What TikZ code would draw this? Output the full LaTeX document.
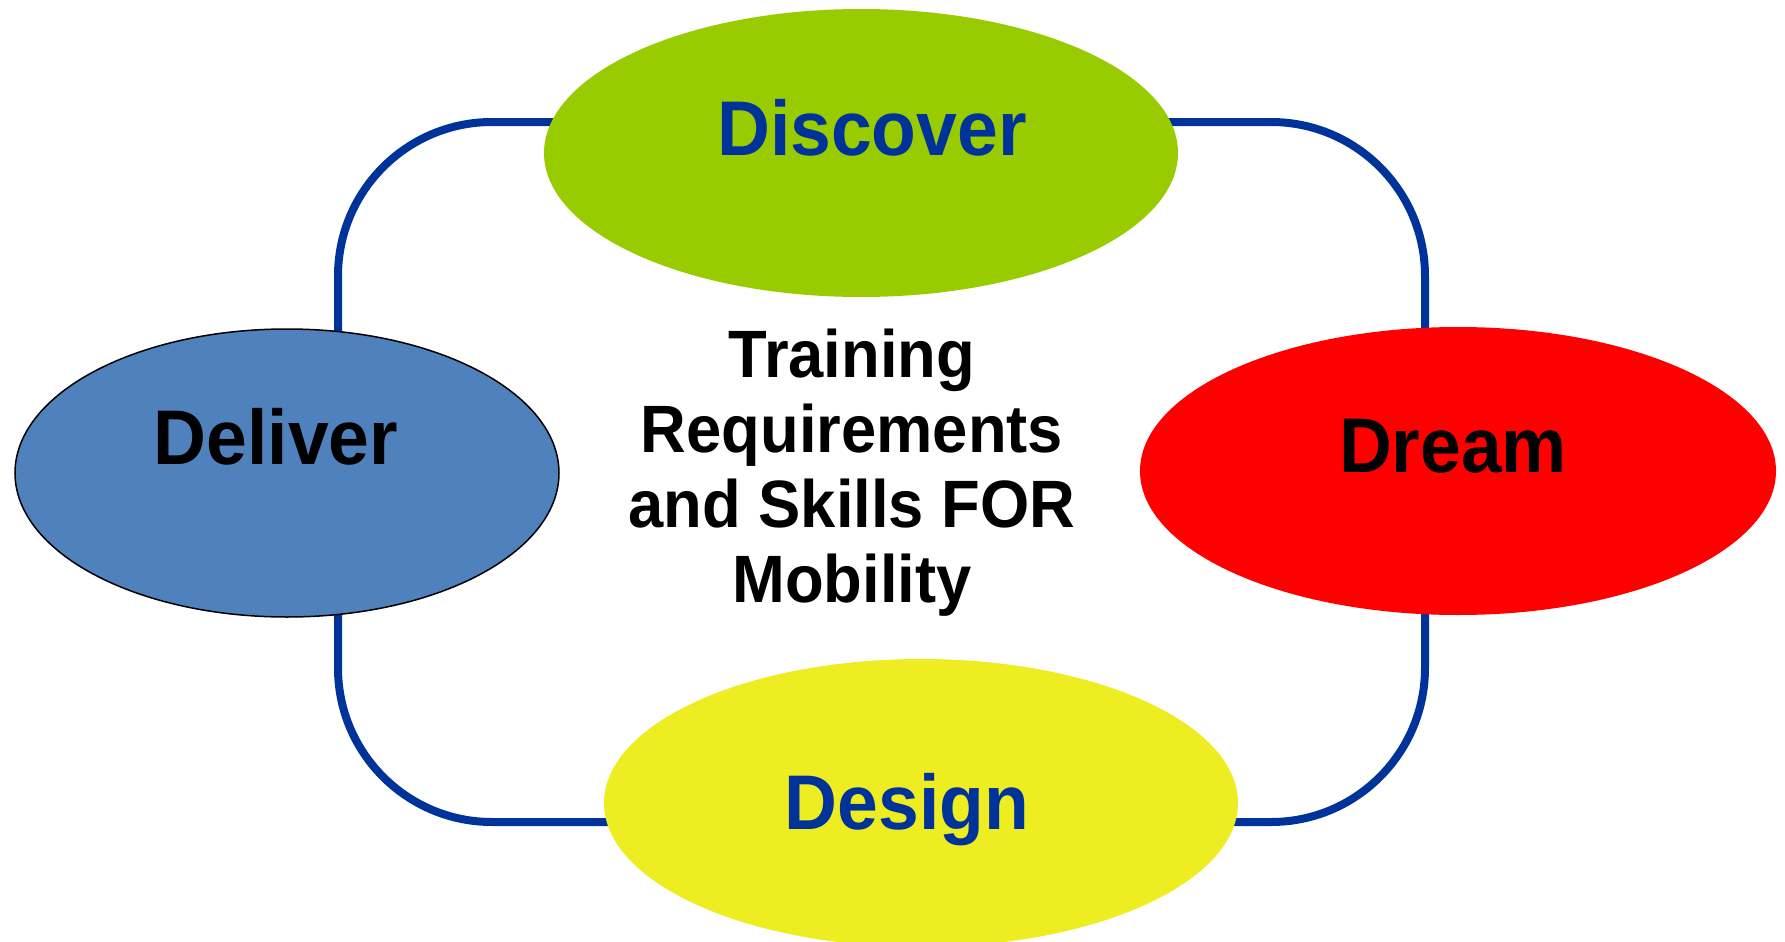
\documentclass[tikz,border=0pt]{standalone}
\usepackage{fontspec}
\setmainfont{Liberation Sans}
\newfontfamily\lblfont{Liberation Sans}[FakeStretch=0.945]
\usetikzlibrary{shapes.geometric}

\definecolor{frameblue}{HTML}{003399}
\definecolor{discovergreen}{HTML}{99CC00}
\definecolor{deliverblue}{HTML}{4F81BD}
\definecolor{dreamred}{HTML}{FF0000}
\definecolor{designyellow}{HTML}{EDED21}

\tikzset{
  phase/.style={ellipse, inner sep=0pt, minimum width=317pt, minimum height=144pt},
  phaselabel/.style={anchor=base, inner sep=0pt,
    font=\lblfont\bfseries\fontsize{38.75pt}{46pt}\selectfont},
  cycleframe/.style={draw=frameblue, line width=4pt, rounded corners=77pt,
    inner sep=0pt, minimum width=543.5pt, minimum height=350pt},
}

\begin{document}
\begin{tikzpicture}[x=0.5pt, y=-0.5pt]
  \useasboundingbox (0,0) rectangle (1785,942);

  % rounded loop linking the four phases
  \node[cycleframe] (loop) at (881.5,472) {};

  % the four phases
  \node[phase, fill=discovergreen] (discover) at (861,153) {};
  \node[phase, fill=deliverblue, draw=black, line width=0.75pt,
        minimum width=272pt] (deliver) at (287,473) {};
  \node[phase, fill=dreamred, minimum width=318pt] (dream) at (1458,471) {};
  \node[phase, fill=designyellow] (design) at (921,803) {};

  % phase names
  \node[phaselabel, text=frameblue] (discover-name) at (872,155) {Discover};
  \node[phaselabel, text=black] (deliver-name) at (276,464) {Deliver};
  \node[phaselabel, text=black] (dream-name) at (1453,472) {Dream};
  \node[phaselabel, text=frameblue] (design-name) at (907,829) {Design};

  % central title (base anchor sits on the last line)
  \node[anchor=base, align=center, inner sep=0pt,
        font=\lblfont\bfseries\fontsize{33.5pt}{37.5pt}\selectfont]
    (title) at (852,602) {Training\\Requirements\\and Skills FOR\\Mobility};
\end{tikzpicture}
\end{document}
